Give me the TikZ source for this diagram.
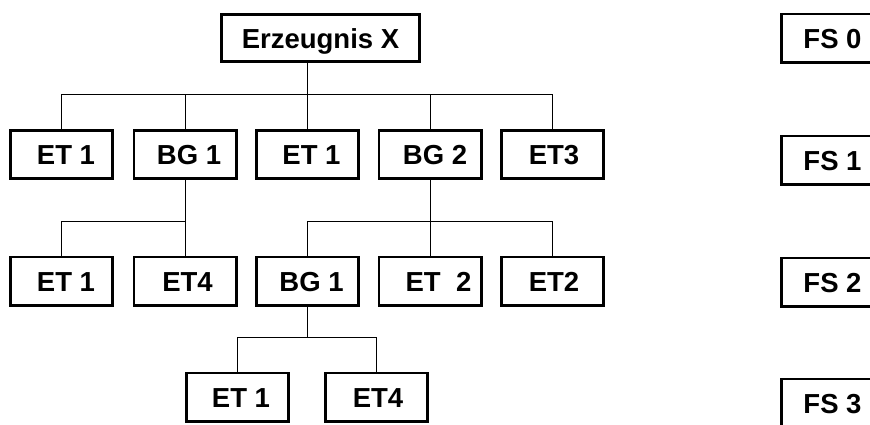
\documentclass[tikz,border=0pt]{standalone}
\usepackage{fontspec}
\setmainfont{Liberation Sans}
\begin{document}
\begin{tikzpicture}[x=1pt,y=-1pt,
  box/.style={draw=black,line width=2.6pt,rectangle,inner sep=0pt,
    minimum width=102.4pt,minimum height=48.4pt,
    text height=20pt,text depth=0pt,
    font=\fontsize{27.5}{30}\selectfont\bfseries},
  wide/.style={minimum width=198.4pt,minimum height=47.4pt},
  link/.style={draw=black,line width=1pt}]
\useasboundingbox (0,0) rectangle (870,424);
\clip (0,0) rectangle (870,424);

% product structure tree
\node[box,wide] (top) at (320.5,38) {Erzeugnis X};

\node[box] (r1a) at (61.5,154.5) {\hspace*{9pt}ET 1};
\node[box] (r1b) at (185,154.5)  {\hspace*{8pt}BG 1};
\node[box] (r1c) at (307.5,154.5){\hspace*{8pt}ET 1};
\node[box] (r1d) at (430,154.5)  {\hspace*{10pt}BG 2};
\node[box] (r1e) at (552.5,154.5){\hspace*{3pt}ET3};

\node[box] (r2a) at (61.5,281)  {\hspace*{9pt}ET 1};
\node[box] (r2b) at (185,281)   {\hspace*{5pt}ET4};
\node[box] (r2c) at (307.5,281) {\hspace*{8pt}BG 1};
\node[box] (r2d) at (430,281)   {\hspace*{17pt}ET~~2};
\node[box] (r2e) at (552.5,281) {\hspace*{3pt}ET2};

\node[box] (r3a) at (237.5,397) {\hspace*{7pt}ET 1};
\node[box] (r3b) at (376.5,397) {\hspace*{3pt}ET4};

% structure levels
\node[box] (fs0) at (832.5,38)  {FS 0};
\node[box] (fs1) at (832.5,160) {FS 1};
\node[box] (fs2) at (832.5,282) {FS 2};
\node[box] (fs3) at (832.5,403) {FS 3};

% bus heights of the branches
\coordinate (b1) at (0,94);
\coordinate (b2) at (0,221);
\coordinate (b3) at (0,337);

% level 0 -> level 1
\draw[link] (top.south -| r1c) -- (r1c.north);
\draw[link] (r1a.north) |- (b1 -| r1e) -- (r1e.north);
\draw[link] (r1b.north) -- (r1b.north |- b1);
\draw[link] (r1d.north) -- (r1d.north |- b1);

% BG 1 -> level 2
\draw[link] (r1b.south) -- (r2b.north);
\draw[link] (r2a.north) |- (b2 -| r2b);

% BG 2 -> level 2
\draw[link] (r1d.south) -- (r2d.north);
\draw[link] (r2c.north) |- (b2 -| r2e) -- (r2e.north);

% BG 1 -> level 3
\draw[link] (r2c.south) -- (r2c.south |- b3);
\draw[link] (r3a.north) |- (b3 -| r3b) -- (r3b.north);
\end{tikzpicture}
\end{document}
